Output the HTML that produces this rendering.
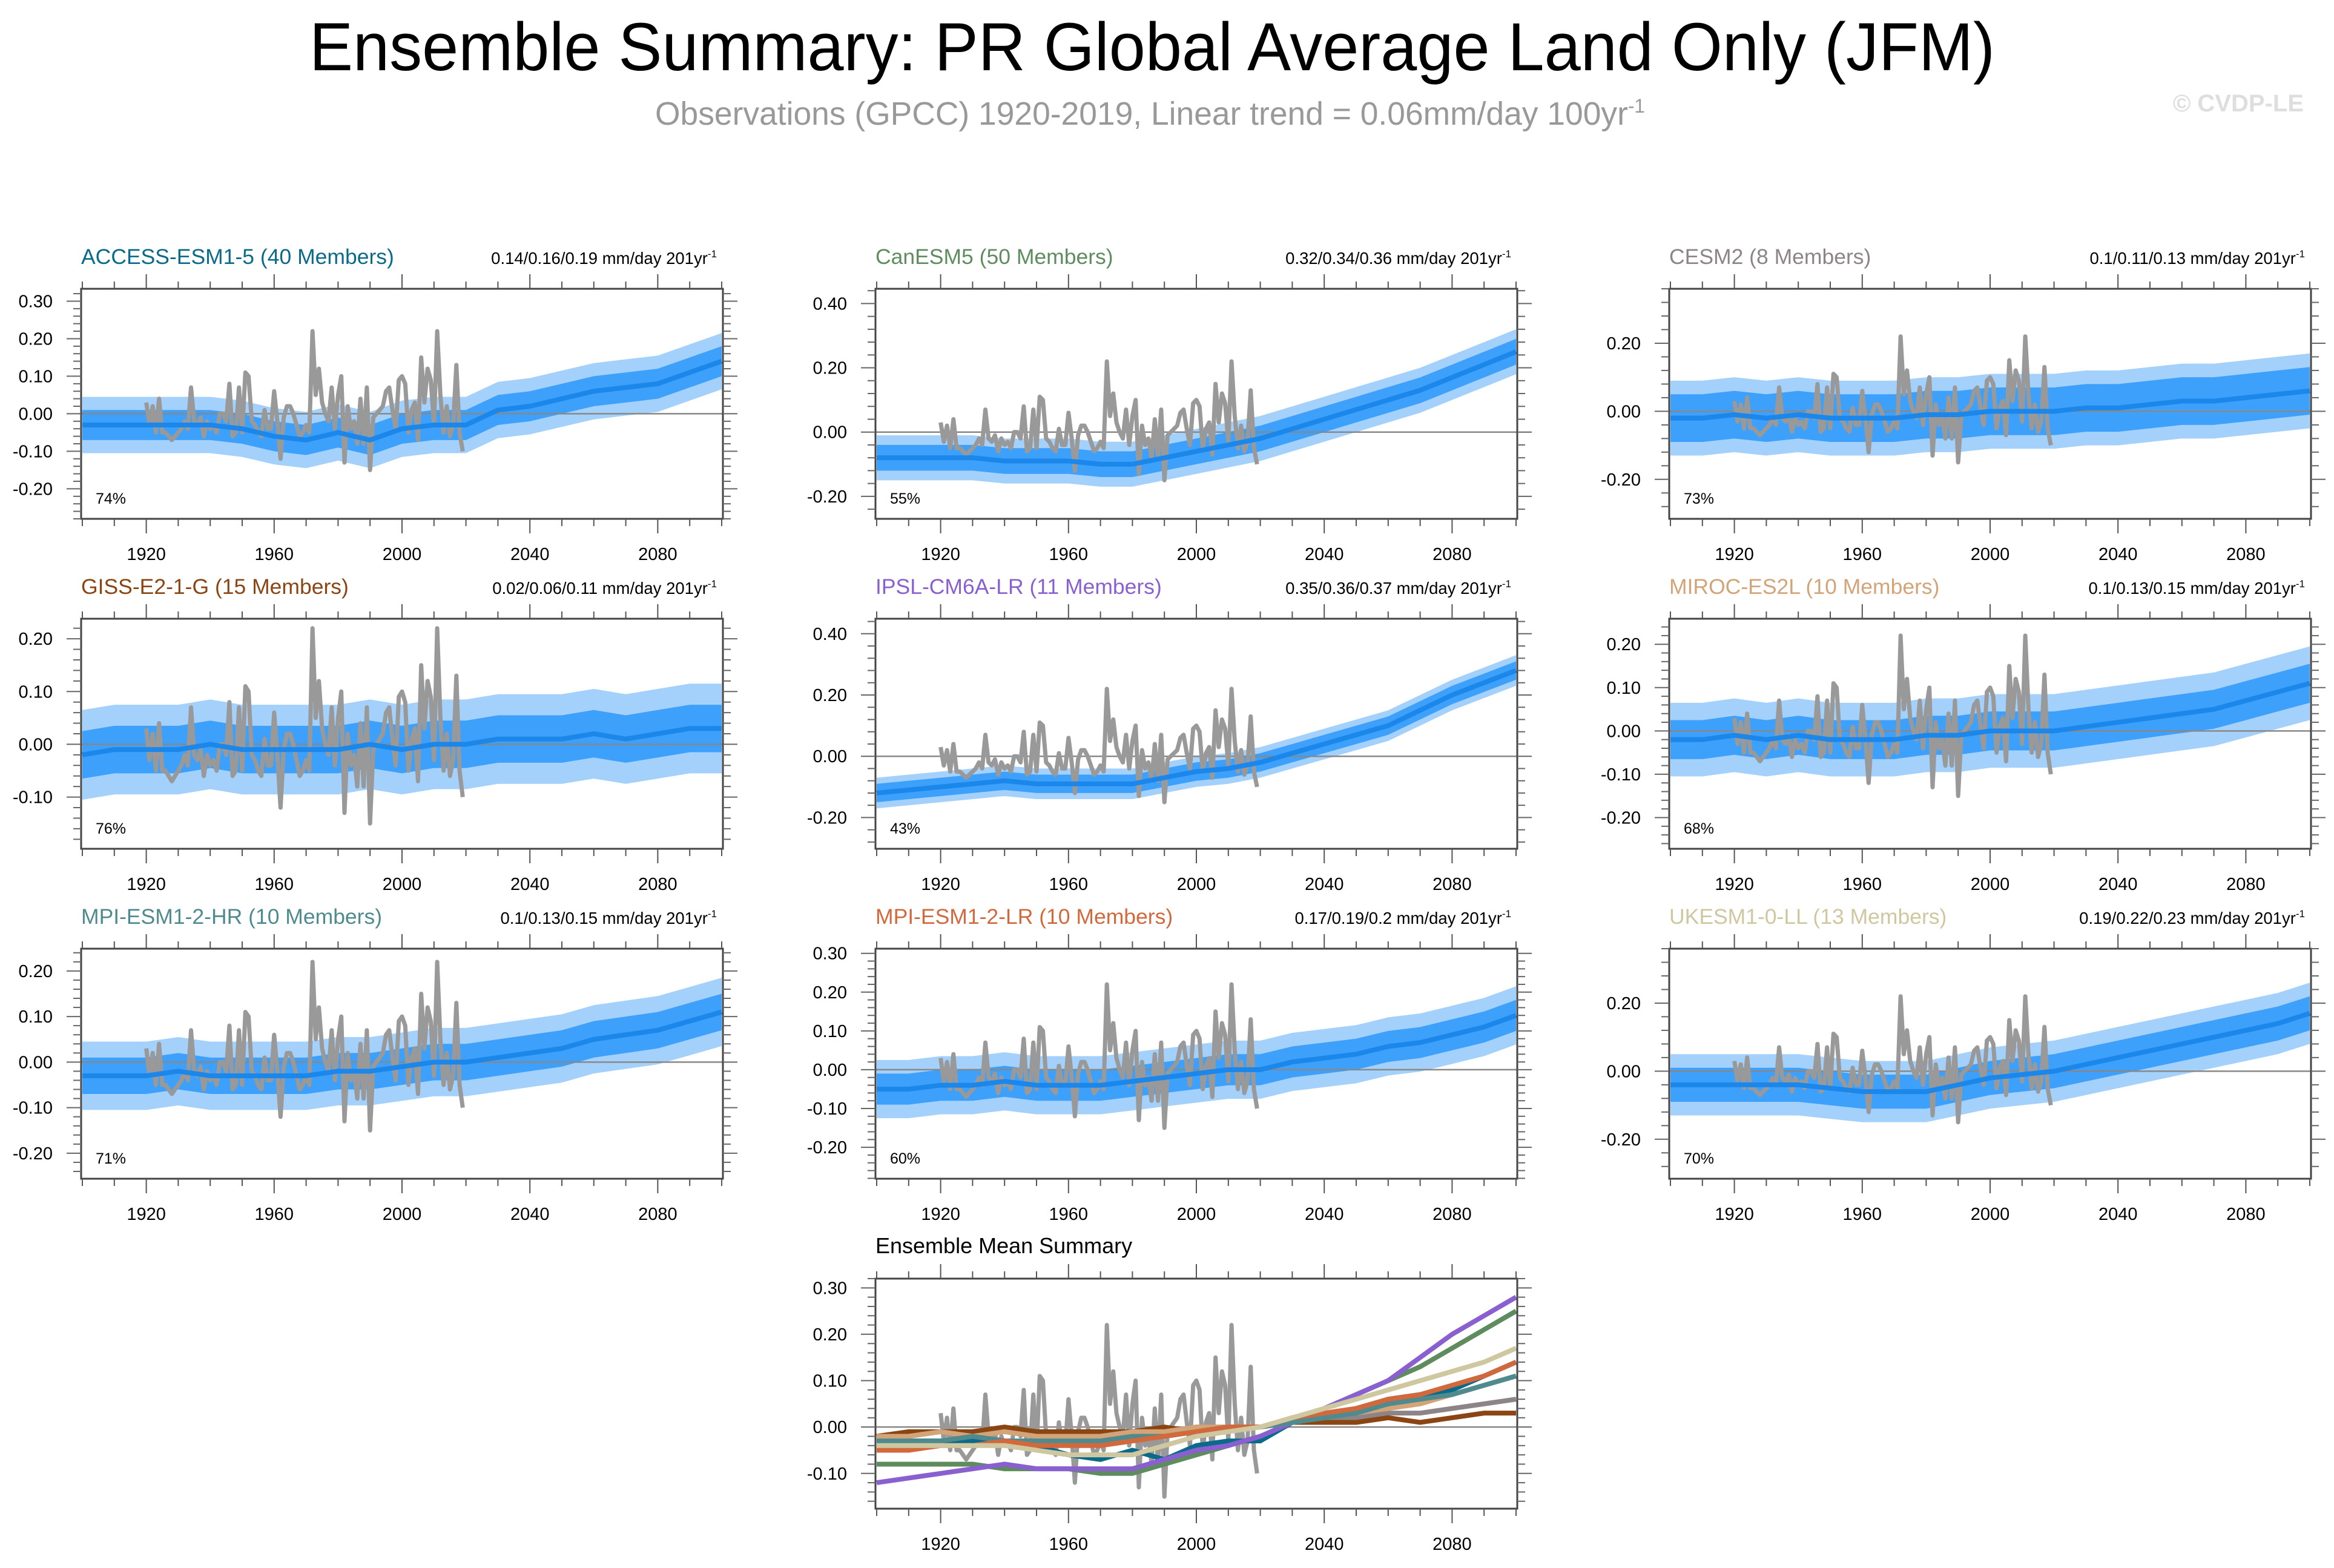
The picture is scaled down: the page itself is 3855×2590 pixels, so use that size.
<!DOCTYPE html>
<html><head><meta charset="utf-8"><style>
html,body{margin:0;padding:0;background:#fff;}
svg{display:block;font-family:"Liberation Sans",Arial,sans-serif;}
</style></head><body>
<svg id="chart" width="3855" height="2590" viewBox="0 0 3855 2590" xmlns="http://www.w3.org/2000/svg">
<rect width="3855" height="2590" fill="#fff"/>
<text x="511" y="116" font-size="112" textLength="2784" lengthAdjust="spacingAndGlyphs">Ensemble Summary: PR Global Average Land Only (JFM)</text>
<text x="1082" y="206" font-size="54" fill="#999" textLength="1635" lengthAdjust="spacingAndGlyphs">Observations (GPCC) 1920-2019, Linear trend = 0.06mm/day 100yr<tspan dy="-20" font-size="32">-1</tspan></text>
<text x="3805" y="184" font-size="40" fill="#dedede" font-weight="bold" text-anchor="end">© CVDP-LE</text>
<g id="panels"></g>
</svg>
<script>
// shared years for model means (10-yr resolution)
const decadeYears = [1900,1910,1920,1930,1940,1950,1960,1970,1980,1990,2000,2010,2020,2030,2040,2050,2060,2070,2080,2090,2100];
const obsStartYear = 1920;
const obsValues = [0.03,-0.03,0.02,-0.05,0.04,-0.05,-0.05,-0.06,-0.07,-0.06,
 -0.05,-0.04,-0.02,-0.04,0.07,-0.02,-0.03,-0.01,-0.06,-0.02,
 -0.04,-0.03,-0.05,0.0,0.0,-0.02,0.08,-0.06,-0.05,0.07,
 -0.05,0.11,0.10,-0.02,-0.03,-0.05,-0.06,0.01,-0.04,-0.04,
 0.06,-0.02,-0.12,-0.01,0.02,0.02,0.0,-0.03,-0.06,-0.05,
 -0.03,-0.05,0.22,0.05,0.12,0.03,0.0,-0.02,0.07,-0.04,
 0.05,0.10,-0.13,0.02,-0.04,-0.02,-0.08,0.04,-0.08,0.07,
 -0.15,-0.01,0.0,0.01,0.02,0.06,0.07,0.01,-0.04,0.09,
 0.10,0.08,-0.05,0.01,0.03,-0.07,0.15,0.03,0.12,0.09,
 -0.03,0.22,0.05,-0.05,0.02,-0.06,-0.03,0.13,-0.05,-0.10];
const modelNames = ["ACCESS-ESM1-5 (40 Members)","CanESM5 (50 Members)","CESM2 (8 Members)","GISS-E2-1-G (15 Members)","IPSL-CM6A-LR (11 Members)","MIROC-ES2L (10 Members)","MPI-ESM1-2-HR (10 Members)","MPI-ESM1-2-LR (10 Members)","UKESM1-0-LL (13 Members)"];
const modelColors = ["#0a6a8a","#5e8c5e","#8c8486","#8b4513","#8a60d0","#d2a478","#4f8b8e","#d2693c","#cfc7a0"];
const trendLabels = ["0.14/0.16/0.19","0.32/0.34/0.36","0.1/0.11/0.13","0.02/0.06/0.11","0.35/0.36/0.37","0.1/0.13/0.15","0.1/0.13/0.15","0.17/0.19/0.2","0.19/0.22/0.23"];
const pctLabels = ["74%","55%","73%","76%","43%","68%","71%","60%","70%"];
const meanAccess = [-0.03,-0.03,-0.03,-0.03,-0.03,-0.04,-0.06,-0.07,-0.05,-0.07,-0.04,-0.03,-0.03,0.01,0.02,0.04,0.06,0.07,0.08,0.11,0.14];
const meanCan = [-0.08,-0.08,-0.08,-0.08,-0.09,-0.09,-0.09,-0.10,-0.10,-0.08,-0.06,-0.04,-0.02,0.01,0.04,0.07,0.10,0.13,0.17,0.21,0.25];
const meanCesm = [-0.02,-0.02,-0.01,-0.02,-0.01,-0.02,-0.02,-0.02,-0.01,-0.01,0.0,0.0,0.0,0.01,0.01,0.02,0.03,0.03,0.04,0.05,0.06];
const meanGiss = [-0.02,-0.01,-0.01,-0.01,0.0,-0.01,-0.01,-0.01,-0.01,0.0,-0.01,0.0,0.0,0.01,0.01,0.01,0.02,0.01,0.02,0.03,0.03];
const meanIpsl = [-0.12,-0.11,-0.10,-0.09,-0.08,-0.09,-0.09,-0.09,-0.09,-0.07,-0.05,-0.04,-0.02,0.01,0.04,0.07,0.10,0.15,0.20,0.24,0.28];
const meanMiroc = [-0.02,-0.02,-0.01,-0.02,-0.01,-0.02,-0.02,-0.02,-0.01,-0.01,0.0,0.0,0.0,0.01,0.02,0.03,0.04,0.05,0.07,0.09,0.11];
const meanMpiHr = [-0.03,-0.03,-0.03,-0.02,-0.03,-0.03,-0.03,-0.03,-0.02,-0.02,-0.01,0.0,0.0,0.01,0.02,0.03,0.05,0.06,0.07,0.09,0.11];
const meanMpiLr = [-0.05,-0.05,-0.04,-0.04,-0.03,-0.04,-0.04,-0.04,-0.03,-0.02,-0.01,0.0,0.0,0.02,0.03,0.04,0.06,0.07,0.09,0.11,0.14];
const meanUk = [-0.04,-0.04,-0.04,-0.04,-0.04,-0.05,-0.06,-0.06,-0.06,-0.04,-0.02,-0.01,0.0,0.02,0.04,0.06,0.08,0.10,0.12,0.14,0.17];
const innerSpread = [0.04,0.04,0.07,0.045,0.03,0.045,0.04,0.04,0.05];
const outerSpread = [0.075,0.07,0.11,0.085,0.05,0.085,0.075,0.075,0.09];
const yMinVals = [-0.28,-0.27,-0.316,-0.198,-0.302,-0.272,-0.256,-0.281,-0.316,-0.176];
const yMaxVals = [0.333,0.446,0.36,0.238,0.449,0.259,0.249,0.312,0.36,0.32];
const yTickVals = [[0.3,0.2,0.1,0,-0.1,-0.2],[0.4,0.2,0,-0.2],[0.2,0,-0.2],[0.2,0.1,0,-0.1],[0.4,0.2,0,-0.2],[0.2,0.1,0,-0.1,-0.2],[0.2,0.1,0,-0.1,-0.2],[0.3,0.2,0.1,0,-0.1,-0.2],[0.2,0,-0.2],[0.3,0.2,0.1,0,-0.1]];
const xTickYears = [1920,1960,2000,2040,2080];
const allMeans = [meanAccess,meanCan,meanCesm,meanGiss,meanIpsl,meanMiroc,meanMpiHr,meanMpiLr,meanUk];

const NS = "http://www.w3.org/2000/svg";
const root = document.getElementById('panels');
function mk(tag, attrs, parent){const e=document.createElementNS(NS,tag);for(const k in attrs)e.setAttribute(k,attrs[k]);(parent||root).appendChild(e);return e;}
const colLeft=[134,1446,2757], rowTop=[477,1022,1567,2112], PW=1060, PH=380;

function drawPanel(idx, L, T){
  const g = mk('g',{});
  
  
  const ymin=yMinVals[idx], ymax=yMaxVals[idx];
  const X = yr => L + 2 + (yr-1900)*(PW-4)/200;
  const Y = v => T + (ymax - v)/(ymax-ymin)*PH;
  const R = L+PW, B = T+PH;
  const clipId='clip'+idx;
  const cp = mk('clipPath',{id:clipId},g); mk('rect',{x:L,y:T,width:PW,height:PH},cp);
  const plot = mk('g',{'clip-path':'url(#'+clipId+')'},g);
  if(idx<9){
    const m=allMeans[idx];
    const band=(s,color,name)=>{
      let up=decadeYears.map((yr,i)=>X(yr)+','+Y(m[i]+s)), dn=decadeYears.map((yr,i)=>X(yr)+','+Y(m[i]-s)).reverse();
      const p=mk('polygon',{points:up.concat(dn).join(' '),fill:color},plot);
      
      
    };
    band(outerSpread[idx],'#a3d1fb','outer-spread-band');
    band(innerSpread[idx],'#3da0fb','inner-spread-band');
  }
  const z = mk('line',{x1:L,x2:R,y1:Y(0),y2:Y(0),stroke:'#888','stroke-width':2.5},plot);
  
  
  const obs = mk('polyline',{points:obsValues.map((v,i)=>X(obsStartYear+i)+','+Y(v)).join(' '),fill:'none',stroke:'#999','stroke-width':7,'stroke-linejoin':'round'},plot);
  
  
  if(idx<9){
    const ml=mk('polyline',{points:decadeYears.map((yr,i)=>X(yr)+','+Y(allMeans[idx][i])).join(' '),fill:'none',stroke:'#1c87ea','stroke-width':8},plot);
    
    
  } else {
    allMeans.forEach((m,k)=>{
      const l=mk('polyline',{points:decadeYears.map((yr,i)=>X(yr)+','+Y(m[i])).join(' '),fill:'none',stroke:modelColors[k],'stroke-width':8},plot);
      
      
    });
  }
  const fr=mk('rect',{x:L,y:T,width:PW,height:PH,fill:'none',stroke:'#444','stroke-width':3},g);
  
  
  for(let yr=1900; yr<=2100; yr+=10){
    const major = xTickYears.includes(yr); const len = major?24:12;
    mk('line',{x1:X(yr),x2:X(yr),y1:T,y2:T-len,stroke:'#555','stroke-width':2},g);
    mk('line',{x1:X(yr),x2:X(yr),y1:B,y2:B+len,stroke:'#555','stroke-width':2},g);
  }
  xTickYears.forEach(yr=>{
    const t=mk('text',{x:X(yr),y:B+68,'font-size':29,'text-anchor':'middle'},g); t.textContent=yr;
    
    
  });
  const ticks=yTickVals[idx]; const step=Math.abs(ticks[0]-ticks[1]); const minor=step/5;
  for(let v=Math.ceil(ymin/minor-1e-6)*minor; v<=ymax+1e-9; v+=minor){
    const isMaj = ticks.some(t=>Math.abs(t-v)<1e-6); const len=isMaj?24:13;
    mk('line',{x1:L,x2:L-len,y1:Y(v),y2:Y(v),stroke:'#666','stroke-width':2},g);
    mk('line',{x1:R,x2:R+len,y1:Y(v),y2:Y(v),stroke:'#666','stroke-width':2},g);
  }
  ticks.forEach(v=>{
    const t=mk('text',{x:L-47,y:Y(v)+10,'font-size':29,'text-anchor':'end'},g); t.textContent=v.toFixed(2);
    
    
  });
  if(idx<9){
    const tt=mk('text',{x:L,y:T-41,'font-size':35.5,fill:modelColors[idx]},g); tt.textContent=modelNames[idx];
    
    
    const tr=mk('text',{x:R-10,y:T-41,'font-size':27.5,'text-anchor':'end'},g);
    tr.textContent=trendLabels[idx]+' mm/day 201yr';
    const sup=mk('tspan',{dy:-11,'font-size':17},tr); sup.textContent='-1';
    
    
    const pc=mk('text',{x:L+24,y:B-25,'font-size':25},g); pc.textContent=pctLabels[idx];
    
    
  } else {
    const tt=mk('text',{x:L,y:T-42,'font-size':36},g); tt.textContent='Ensemble Mean Summary';
    
    
  }
}
for(let i=0;i<9;i++) drawPanel(i, colLeft[i%3], rowTop[Math.floor(i/3)]);
drawPanel(9, colLeft[1], rowTop[3]);
</script>
</body></html>
